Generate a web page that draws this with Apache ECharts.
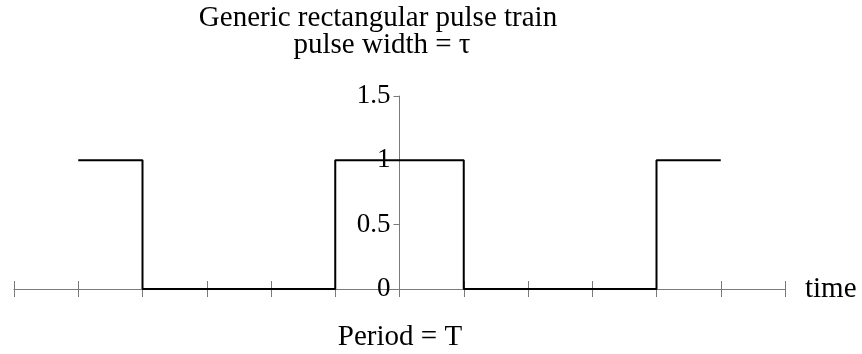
<!DOCTYPE html>
<html>
<head>
<meta charset="utf-8">
<script src="https://cdn.jsdelivr.net/npm/echarts@6/dist/echarts.min.js"></script>
<style>
  html, body { margin: 0; padding: 0; background: #fff; }
  #chart { width: 862px; height: 354px; }
</style>
</head>
<body>
<div id="chart"></div>
<script>
// Rectangular pulse train: level changes at each edge time (step drawn from each point onward)
const edgeTimes = [-5, -4, -1, 1, 4, 5];
const edgeLevels = [1, 0, 1, 0, 1, 1];
const yTicks = [0, 0.5, 1, 1.5];
const titleText = 'Generic rectangular pulse train';
const subtitleText = 'pulse width = τ';
const xAxisName = 'time';
const bottomText = 'Period = T';

const serif = "'Liberation Serif', 'Times New Roman', serif";
const axisGray = '#7a7a7a';
const W = 862, H = 354;
const gridLeft = 14, gridRight = 77;

const chart = echarts.init(document.getElementById('chart'));

const pulseData = edgeTimes.map((t, i) => [t, edgeLevels[i]]);

const baseX = {
  type: 'value',
  min: -6,
  max: 6,
  interval: 1,
  position: 'bottom',
  offset: 0,
  splitLine: { show: false },
  axisLabel: { show: false },
  axisLine: { show: true, onZero: false, lineStyle: { color: axisGray, width: 1 } }
};

// vertical axis sits at time = 0, in the middle of the plot width
const yAxisOffset = -((W - gridLeft - gridRight) / 2);

function caption(text, x, y) {
  return {
    type: 'text',
    x: x,
    y: y,
    style: {
      text: text,
      fontFamily: serif,
      fontSize: 29,
      fill: '#000',
      align: 'center',
      verticalAlign: 'middle'
    }
  };
}

chart.setOption({
  animation: false,
  backgroundColor: '#fff',
  grid: { left: gridLeft, right: gridRight, top: 96, bottom: 65, outerBoundsMode: 'none', containLabel: false },
  graphic: [
    caption(titleText, 378, 18),
    caption(subtitleText, 382, 45),
    caption(bottomText, 400, 337)
  ],
  xAxis: [
    Object.assign({}, baseX, {
      name: xAxisName,
      nameLocation: 'end',
      nameGap: 20,
      nameTextStyle: { fontFamily: serif, fontSize: 29, color: '#000', verticalAlign: 'middle' },
      axisTick: { show: true, inside: false, length: 8, lineStyle: { color: axisGray } }
    }),
    Object.assign({}, baseX, {
      axisLine: { show: false },
      axisTick: { show: true, inside: true, length: 8, lineStyle: { color: axisGray } }
    })
  ],
  yAxis: {
    type: 'value',
    position: 'left',
    offset: yAxisOffset,
    min: yTicks[0],
    max: yTicks[yTicks.length - 1],
    interval: 0.5,
    splitLine: { show: false },
    axisLine: { show: true, onZero: false, lineStyle: { color: axisGray, width: 1 } },
    axisTick: { show: true, inside: false, length: 6, lineStyle: { color: axisGray } },
    axisLabel: {
      margin: 9,
      fontFamily: serif,
      fontSize: 27,
      color: '#000',
      formatter: v => String(v)
    }
  },
  series: [
    {
      type: 'line',
      step: 'end',
      data: pulseData,
      showSymbol: false,
      lineStyle: { color: '#000', width: 2 },
      z: 3
    }
  ]
});
</script>
</body>
</html>
